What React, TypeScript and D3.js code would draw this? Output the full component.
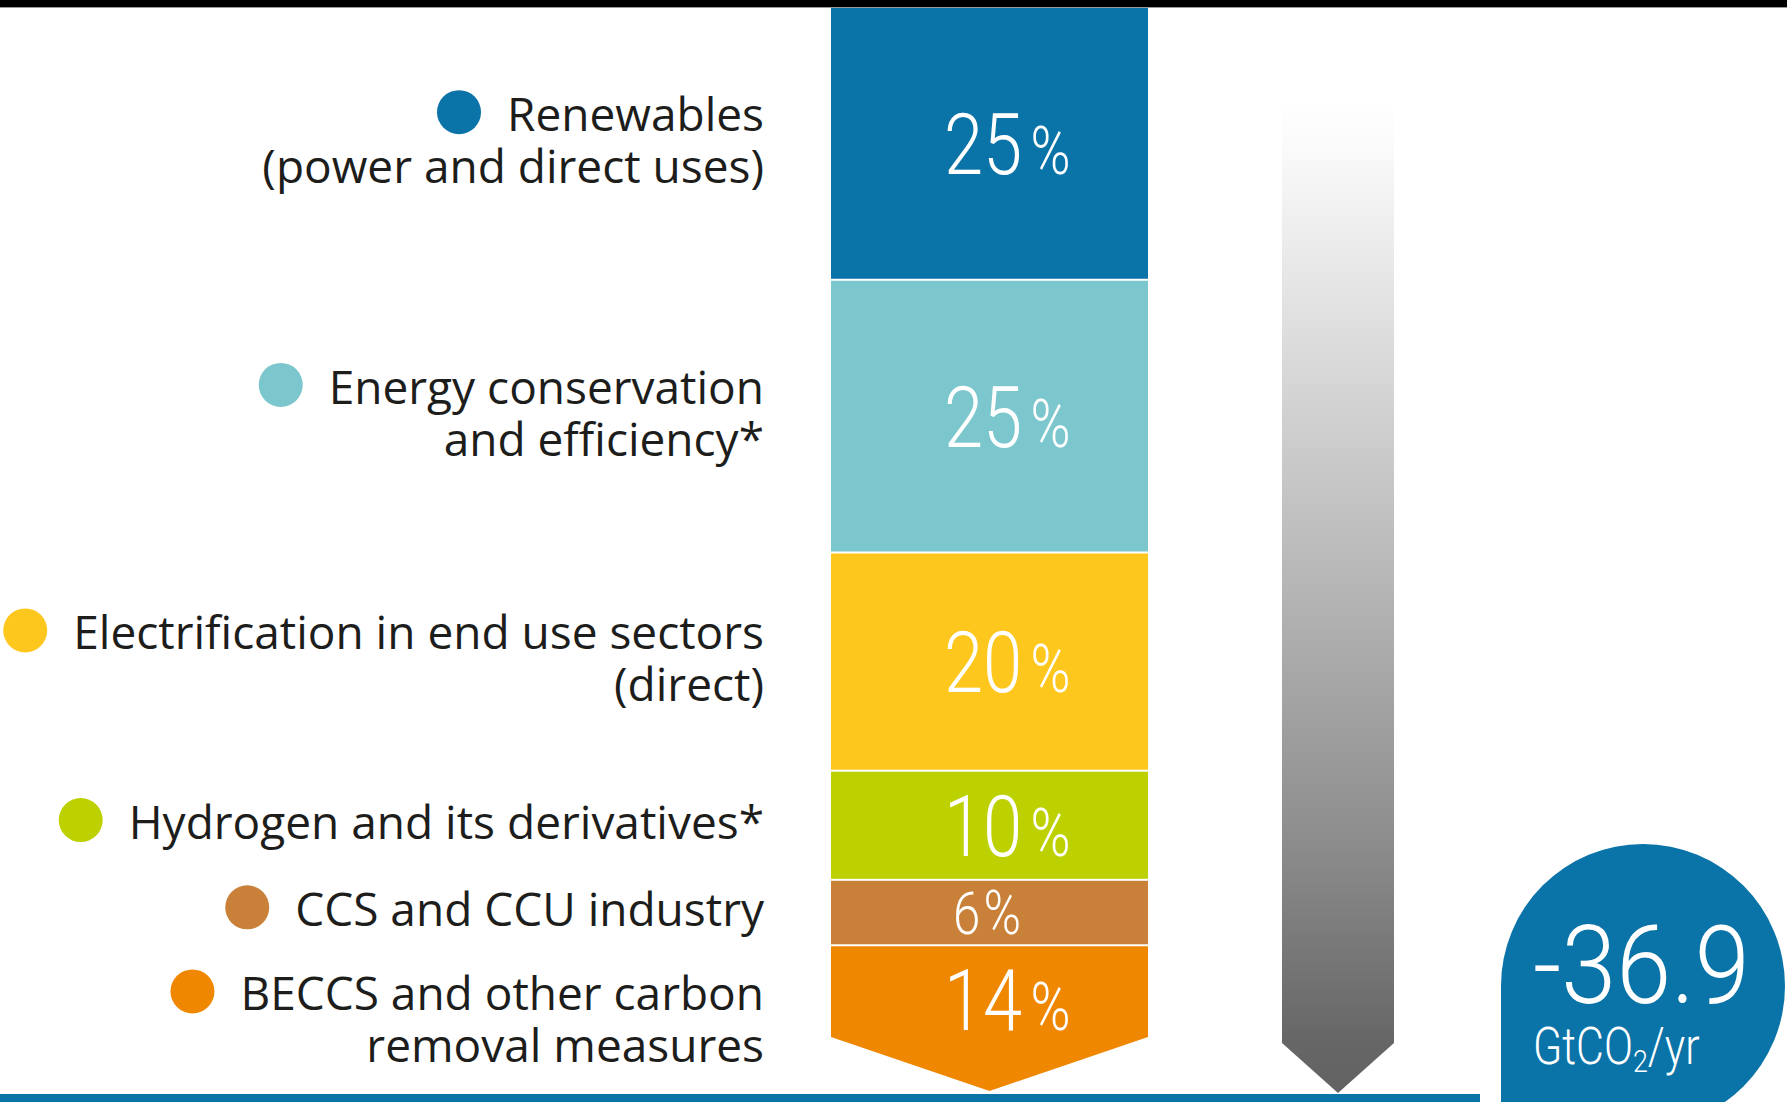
import React, { useEffect, useRef } from "react";
import * as d3 from "d3";

// ---- data ----
const categories = [
  "Renewables",
  "Energy conservation and efficiency",
  "Electrification in end use sectors",
  "Hydrogen and its derivatives",
  "CCS and CCU industry",
  "BECCS and other carbon removal measures",
];
const labelLines: string[][] = [
  ["Renewables", "(power and direct uses)"],
  ["Energy conservation", "and efficiency*"],
  ["Electrification in end use sectors", "(direct)"],
  ["Hydrogen and its derivatives*"],
  ["CCS and CCU industry"],
  ["BECCS and other carbon", "removal measures"],
];
const shares = [25, 25, 20, 10, 6, 14];
const colors = ["#0a73a7", "#7cc7cd", "#fec71e", "#bdd000", "#c98139", "#f08700"];
const totalValue = "-36.9";
const totalUnit = ["GtCO", "2", "/yr"];

const W = 1787;
const H = 1102;

export default function App() {
  const ref = useRef<SVGSVGElement>(null);

  useEffect(() => {
    const svg = d3.select(ref.current);
    svg.selectAll("*").remove();

    const barX0 = 831;
    const barX1 = 1148;
    const barCx = (barX0 + barX1) / 2;
    const baseY = 1093;
    const y = d3.scaleLinear().domain([0, 100]).range([8, 1099]);
    const ends = Array.from(d3.cumsum(shares));
    const starts = ends.map((e, i) => e - shares[i]);
    const gap = 2;
    const arrowDepth = 54;

    const defs = svg.append("defs");
    const grad = defs
      .append("linearGradient")
      .attr("id", "grayGrad")
      .attr("x1", 0)
      .attr("y1", 0)
      .attr("x2", 0)
      .attr("y2", 1);
    [
      [0, "#ffffff"],
      [0.05, "#fafafa"],
      [0.2, "#e3e3e3"],
      [0.5, "#b4b4b4"],
      [0.75, "#8c8c8c"],
      [0.95, "#666666"],
      [1, "#626262"],
    ].forEach(([o, c]) => grad.append("stop").attr("offset", o as number).attr("stop-color", c as string));

    // segments
    const segG = svg.append("g");
    shares.forEach((s, i) => {
      const y0 = y(starts[i]);
      const last = i === shares.length - 1;
      if (!last) {
        segG
          .append("rect")
          .attr("x", barX0)
          .attr("y", y0)
          .attr("width", barX1 - barX0)
          .attr("height", y(ends[i]) - y0 - gap)
          .attr("fill", colors[i]);
      } else {
        const tip = baseY - 2;
        const sh = tip - arrowDepth;
        const p = d3.path();
        p.moveTo(barX0, y0);
        p.lineTo(barX1, y0);
        p.lineTo(barX1, sh);
        p.lineTo(barCx, tip);
        p.lineTo(barX0, sh);
        p.closePath();
        segG.append("path").attr("d", p.toString()).attr("fill", colors[i]);
      }
    });

    // percentage labels
    const sx = 0.82;
    shares.forEach((s, i) => {
      const y0 = y(starts[i]);
      const last = i === shares.length - 1;
      const y1 = last ? baseY - 2 - arrowDepth * 0.7 : y(ends[i]) - gap;
      const h = y1 - y0;
      const small = h < 80;
      const fsD = small ? 60 : 86;
      const fsP = small ? 62 : 66;
      const cy = (y0 + y1) / 2;
      const baseline = cy + fsD * 0.711 / 2;
      const g = svg
        .append("g")
        .attr("transform", `translate(${barX0 + (small ? 122 : 113)},${baseline}) scale(${sx},1)`);
      const t = g
        .append("text")
        .attr("x", 0)
        .attr("y", 0)
        .attr("fill", "#ffffff")
        .attr("font-family", "Roboto, 'Liberation Sans', sans-serif")
        .attr("font-weight", 300);
      t.append("tspan").attr("font-size", fsD).text(String(s));
      t.append("tspan").attr("font-size", fsP).attr("dx", small ? 4 : 10).text("%");
    });

    // left labels with dots
    const fs = 46;
    const lineH = 52;
    const labelX = 764;
    labelLines.forEach((lines, i) => {
      const y0 = y(starts[i]);
      const last = i === shares.length - 1;
      const y1 = last ? baseY + 6 : y(ends[i]) - gap;
      const cy = (y0 + y1) / 2;
      const first = cy - ((lines.length - 1) * lineH) / 2 + fs * 0.3;
      const g = svg.append("g");
      let firstWidth = 0;
      lines.forEach((ln, j) => {
        const t = g
          .append("text")
          .attr("x", labelX)
          .attr("y", first + j * lineH)
          .attr("text-anchor", "end")
          .attr("font-family", "'Open Sans', 'Noto Sans', sans-serif")
          .attr("font-size", fs)
          .attr("fill", "#1d1d1b")
          .text(ln);
        if (j === 0) firstWidth = (t.node() as SVGTextElement).getComputedTextLength();
      });
      g.append("circle")
        .attr("cx", labelX - firstWidth - 48)
        .attr("cy", first - 19)
        .attr("r", 22)
        .attr("fill", colors[i])
        .append("title")
        .text(categories[i]);
    });

    // gray arrow
    {
      const ax0 = 1282;
      const ax1 = 1394;
      const acx = (ax0 + ax1) / 2;
      const top = 100;
      const tip = baseY;
      const sh = tip - 50;
      const p = d3.path();
      p.moveTo(ax0, top);
      p.lineTo(ax1, top);
      p.lineTo(ax1, sh);
      p.lineTo(acx, tip);
      p.lineTo(ax0, sh);
      p.closePath();
      svg.append("path").attr("d", p.toString()).attr("fill", "url(#grayGrad)");
    }

    // baseline
    svg.append("rect").attr("x", 0).attr("y", baseY + 1).attr("width", 1480).attr("height", H - baseY).attr("fill", "#0a73a7");

    // bubble
    {
      const cx = 1643;
      const cyb = 986;
      const r = 142;
      const p = d3.path();
      p.moveTo(cx - r, cyb + r);
      p.lineTo(cx - r, cyb);
      p.arc(cx, cyb, r, Math.PI, Math.PI * 2.5, false);
      p.lineTo(cx - r, cyb + r);
      p.closePath();
      svg.append("path").attr("d", p.toString()).attr("fill", "#0a73a7");

      const g1 = svg.append("g").attr("transform", `translate(1533,1003) scale(0.9,1)`);
      g1.append("text")
        .attr("font-family", "Roboto, 'Liberation Sans', sans-serif")
        .attr("font-weight", 300)
        .attr("font-size", 110)
        .attr("fill", "#fff")
        .text(totalValue);
      const g2 = svg.append("g").attr("transform", `translate(1533,1064) scale(0.84,1)`);
      const t2 = g2
        .append("text")
        .attr("font-family", "Roboto, 'Liberation Sans', sans-serif")
        .attr("font-weight", 300)
        .attr("font-size", 51)
        .attr("fill", "#fff");
      t2.append("tspan").text(totalUnit[0]);
      t2.append("tspan").attr("font-size", 32).attr("dy", 8).text(totalUnit[1]);
      t2.append("tspan").attr("dy", -8).text(totalUnit[2]);
    }

    // top black bar
    svg.append("rect").attr("x", 0).attr("y", 0).attr("width", W).attr("height", 7).attr("fill", "#000");
    svg.append("rect").attr("x", 0).attr("y", 7).attr("width", W).attr("height", 1).attr("fill", "#9a9a9a");
  }, []);

  return (
    <svg
      ref={ref}
      width={W}
      height={H}
      style={{ position: "absolute", left: 0, top: 0, display: "block", background: "#fff" }}
    />
  );
}
